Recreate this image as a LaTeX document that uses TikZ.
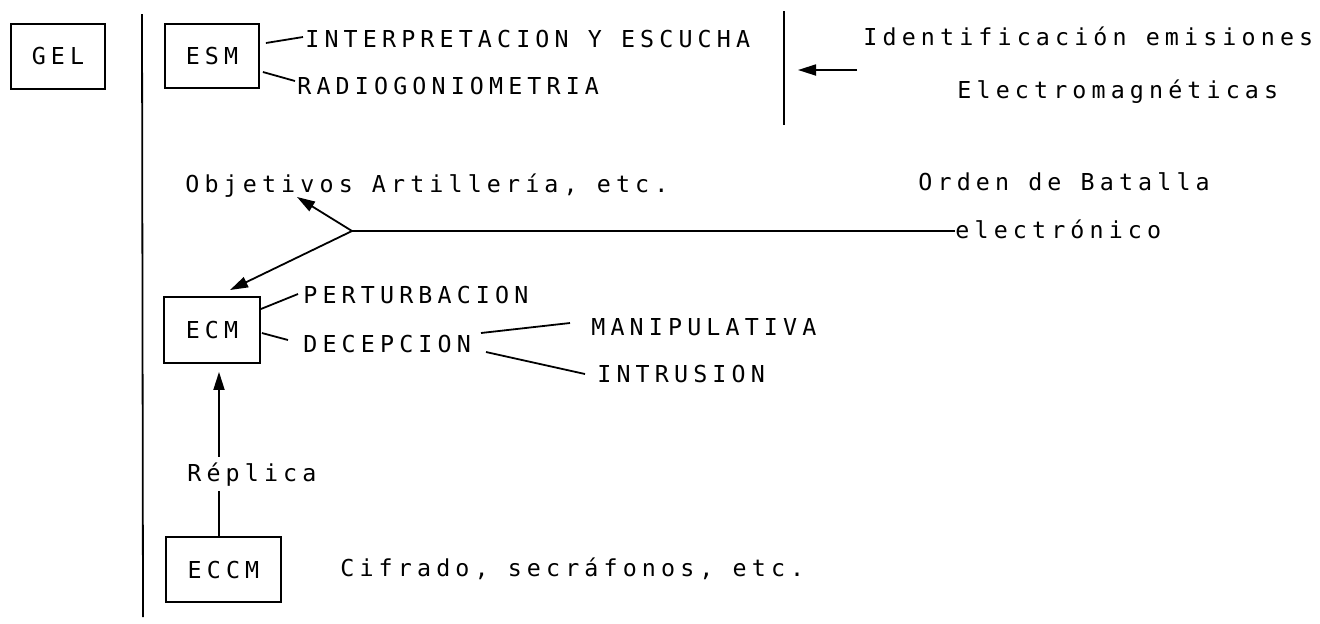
\documentclass[tikz,border=0pt]{standalone}
\usepackage{fontspec}
\newfontfamily\cadfont[LetterSpace=22]{DejaVu Sans Mono}
\usetikzlibrary{arrows.meta,calc}
\begin{document}
\begin{tikzpicture}[x=0.5pt,y=-0.5pt,
  lbl/.style={anchor=base west,inner sep=0pt,font={\cadfont\fontsize{11.66}{14}\selectfont}},
  boxn/.style={draw,line width=0.9pt,inner sep=0pt,font={\cadfont\fontsize{11.66}{14}\selectfont}},
  ln/.style={line width=0.9pt},
  arr/.style={line width=0.9pt,-{Triangle[length=9pt,width=5.5pt]}}]
\useasboundingbox (0,0) rectangle (1320,623);
% boxes
\node[boxn,minimum width=47pt,minimum height=32.5pt] (gel) at (58,56.5) {GEL};
\node[boxn,minimum width=47pt,minimum height=32pt] (esm) at (212,56) {ESM};
\node[boxn,minimum width=48pt,minimum height=33pt] (ecm) at (212,330) {ECM};
\node[boxn,minimum width=57.5pt,minimum height=32.5pt] (eccm) at (223.5,569.5) {ECCM};
% dividers
\draw[ln] (142,14) -- (143,617);
\draw[ln] (784,11) -- (784,125);
% labels
\node[lbl] (interp) at (305,47) {INTERPRETACION Y ESCUCHA};
\node[lbl] (radio) at (297,94) {RADIOGONIOMETRIA};
\node[lbl] (ident) at (863,45) {Identificación emisiones};
\node[lbl] (electro) at (957,98) {Electromagnéticas};
\node[lbl] (objet) at (185,192) {Objetivos Artillería, etc.};
\node[lbl] (orden) at (918,190) {Orden de Batalla};
\node[lbl] (elec) at (955,238) {electrónico};
\node[lbl] (pert) at (303,303) {PERTURBACION};
\node[lbl] (dec) at (303,352) {DECEPCION};
\node[lbl] (manip) at (591,335) {MANIPULATIVA};
\node[lbl] (intr) at (597,382) {INTRUSION};
\node[lbl,inner ysep=2.5pt] (replica) at (187,481) {Réplica};
\node[lbl] (cifr) at (340,576) {Cifrado, secráfonos, etc.};
% coordinates
\coordinate (J) at (352,231);
\coordinate (tipobj) at (297,197);
\coordinate (tipecm) at (230,290);
\coordinate (atail) at (857,70);
\coordinate (ahead) at (798,70);
\coordinate (ax) at (219,0);
% connectors
\draw[ln] ($(esm.east)+(6,-13)$) -- ($(interp.base west)+(-2,-10)$);
\draw[ln] ($(esm.east)+(3,16)$) -- ($(radio.base west)+(-2,-13)$);
\draw[arr] (atail) -- (ahead);
\draw[ln] (J -| elec.west) -- (J);
\draw[arr] (J) -- (tipobj);
\draw[arr] (J) -- (tipecm);
\draw[ln] ($(ecm.east)+(0,-21)$) -- ($(pert.base west)+(-5,-9)$);
\draw[ln] ($(ecm.east)+(1,3)$) -- ($(dec.base west)+(-15,-12)$);
\draw[ln] ($(dec.base west)+(178,-19)$) -- ($(manip.base west)+(-21,-12)$);
\draw[ln] ($(dec.base west)+(183,0)$) -- ($(intr.base west)+(-12,-8)$);
\draw[ln] (ax |- eccm.north) -- (ax |- replica.south);
\draw[arr,shorten >=4pt] (ax |- replica.north) -- (ax |- ecm.south);
\end{tikzpicture}
\end{document}
